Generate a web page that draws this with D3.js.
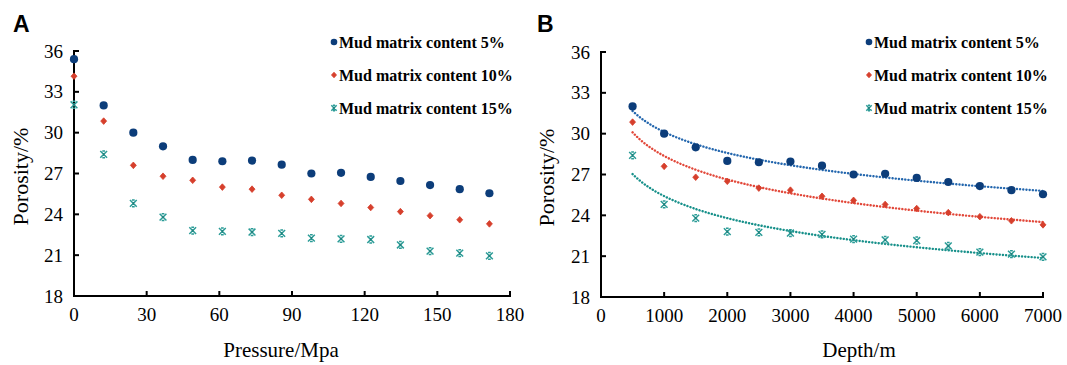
<!DOCTYPE html>
<html><head><meta charset="utf-8">
<script src="https://cdn.jsdelivr.net/npm/d3@7"></script>
<style>
html,body{margin:0;padding:0;background:#fff;}
svg{display:block;}
</style></head>
<body>
<svg id="chart" width="1067" height="365"></svg>
<script>
// ---------- data ----------
const pressure = [0, 12.25, 24.5, 36.75, 49, 61.25, 73.5, 85.75, 98, 110.25, 122.5, 134.75, 147, 159.25, 171.5];
const pressureMud5  = [35.4, 32.0, 30.0, 29.0, 28.0, 27.9, 27.95, 27.65, 27.0, 27.05, 26.75, 26.45, 26.15, 25.85, 25.55];
const pressureMud10 = [34.15, 30.85, 27.6, 26.8, 26.5, 26.0, 25.85, 25.4, 25.1, 24.8, 24.5, 24.2, 23.9, 23.6, 23.3];
const pressureMud15 = [32.05, 28.4, 24.8, 23.8, 22.8, 22.75, 22.7, 22.6, 22.25, 22.2, 22.15, 21.75, 21.3, 21.15, 20.95];

const depth = [500, 1000, 1500, 2000, 2500, 3000, 3500, 4000, 4500, 5000, 5500, 6000, 6500, 7000];
const depthMud5  = [32.0, 30.0, 29.0, 28.0, 27.9, 27.95, 27.65, 27.0, 27.05, 26.75, 26.45, 26.15, 25.85, 25.55];
const depthMud10 = [30.85, 27.6, 26.8, 26.5, 26.0, 25.85, 25.4, 25.1, 24.8, 24.5, 24.2, 23.9, 23.6, 23.3];
const depthMud15 = [28.4, 24.8, 23.8, 22.8, 22.75, 22.7, 22.6, 22.25, 22.2, 22.15, 21.75, 21.3, 21.15, 20.95];

const seriesNames = ["Mud matrix content 5%", "Mud matrix content 10%", "Mud matrix content 15%"];
const yTicks = [18, 21, 24, 27, 30, 33, 36];
const pressureTicks = [0, 30, 60, 90, 120, 150, 180];
const depthTicks = [0, 1000, 2000, 3000, 4000, 5000, 6000, 7000];

// ---------- styles ----------
const markerColors = ["#0c3d7a", "#d63f2c", "#2b9c97"];
const trendColors  = ["#2467ae", "#e2483a", "#17908a"];
const markerTypes  = ["circle", "diamond", "star"];

const svg = d3.select("#chart");
const serif = "'Liberation Serif','Times New Roman',serif";

function drawMarker(g, type, color, x, y, s) {
  if (type === "circle") {
    g.append("circle").attr("cx", x).attr("cy", y).attr("r", s).attr("fill", color);
  } else if (type === "diamond") {
    const w = s * 0.9, h = s;
    g.append("path")
      .attr("d", `M${x},${y-h}L${x+w},${y}L${x},${y+h}L${x-w},${y}Z`)
      .attr("fill", color).attr("stroke", color).attr("stroke-width", 0.8).attr("stroke-linejoin", "round");
  } else {
    const p = d3.path();
    p.moveTo(x - s, y - s); p.lineTo(x + s, y + s);
    p.moveTo(x - s, y + s); p.lineTo(x + s, y - s);
    p.moveTo(x - s * 0.4, y - s); p.lineTo(x + s * 0.4, y - s);
    p.moveTo(x - s * 0.4, y + s); p.lineTo(x + s * 0.4, y + s);
    g.append("path").attr("d", p.toString()).attr("fill", "none")
      .attr("stroke", color).attr("stroke-width", 1.5);
    g.append("circle").attr("cx", x).attr("cy", y).attr("r", 1.1).attr("fill", d3.color(color).darker(0.6));
  }
}

function logFit(xs, ys) {
  const lx = xs.map(Math.log);
  const n = xs.length;
  const mx = d3.mean(lx), my = d3.mean(ys);
  let sxy = 0, sxx = 0;
  for (let i = 0; i < n; i++) { sxy += (lx[i] - mx) * (ys[i] - my); sxx += (lx[i] - mx) ** 2; }
  const b = sxy / sxx, a = my - b * mx;
  return x => a + b * Math.log(x);
}

function panel(cfg) {
  const g = svg.append("g");
  const x = d3.scaleLinear().domain(cfg.xDomain).range([cfg.left, cfg.right]);
  const y = d3.scaleLinear().domain([18, 36]).range([cfg.bottom, cfg.top]);

  // axes
  const ax = g.append("g").attr("stroke", "#000").attr("stroke-width", 2);
  ax.append("line").attr("x1", cfg.left).attr("x2", cfg.left).attr("y1", y(36) - 1).attr("y2", cfg.bottom + 1);
  ax.append("line").attr("x1", cfg.left - 1).attr("x2", x(cfg.xDomain[1]) + 1).attr("y1", cfg.bottom).attr("y2", cfg.bottom);
  yTicks.forEach(t => {
    ax.append("line").attr("x1", cfg.left).attr("x2", cfg.left + 5).attr("y1", y(t)).attr("y2", y(t));
    g.append("text").attr("x", cfg.left - 11).attr("y", y(t)).attr("dy", "0.35em")
      .attr("text-anchor", "end").attr("font-family", serif).attr("font-size", 19).text(t);
  });
  cfg.xTicks.forEach(t => {
    ax.append("line").attr("x1", x(t)).attr("x2", x(t)).attr("y1", cfg.bottom).attr("y2", cfg.bottom - 5);
    g.append("text").attr("x", x(t)).attr("y", cfg.bottom + 25)
      .attr("text-anchor", "middle").attr("font-family", serif).attr("font-size", 19).text(t);
  });

  // titles
  g.append("text").attr("x", cfg.titleX).attr("y", 357).attr("text-anchor", "middle")
    .attr("font-family", serif).attr("font-size", 21).text(cfg.xTitle);
  g.append("text").attr("transform", `translate(${cfg.yTitleX},${(cfg.top + cfg.bottom) / 2 + 3}) rotate(-90)`)
    .attr("text-anchor", "middle").attr("font-family", serif).attr("font-size", 22).text("Porosity/%");
  g.append("text").attr("x", cfg.letterX).attr("y", 32).attr("font-family", "'Liberation Sans',Arial,sans-serif")
    .attr("font-weight", "bold").attr("font-size", 23).text(cfg.letter);

  // trend lines
  if (cfg.trend) {
    cfg.series.forEach((ys, i) => {
      const f = logFit(cfg.xs, ys);
      const pts = d3.range(cfg.xs[0], cfg.xs[cfg.xs.length - 1] + 1, 50).map(v => [x(v), y(f(v))]);
      g.append("path").attr("d", d3.line()(pts)).attr("fill", "none")
        .attr("stroke", trendColors[i]).attr("stroke-width", 2.4)
        .attr("stroke-dasharray", "0.1 3.1").attr("stroke-linecap", "round");
    });
  }

  // markers
  const sizes = [4.1, 3.3, 3.4];
  cfg.series.forEach((ys, i) => {
    const mg = g.append("g");
    ys.forEach((v, j) => drawMarker(mg, markerTypes[i], markerColors[i], x(cfg.xs[j]), y(v), sizes[i]));
  });

  // legend
  const legSizes = [3.3, 2.8, 2.7];
  const rowsY = [42, 75, 108];
  seriesNames.forEach((name, i) => {
    drawMarker(g, markerTypes[i], markerColors[i], cfg.legendX, rowsY[i], legSizes[i]);
    g.append("text").attr("x", cfg.legendX + 5).attr("y", rowsY[i]).attr("dy", "0.35em")
      .attr("font-family", serif).attr("font-weight", "bold").attr("font-size", 16).text(name);
  });
}

panel({
  letter: "A", letterX: 13,
  xDomain: [0, 180], xTicks: pressureTicks, xs: pressure,
  series: [pressureMud5, pressureMud10, pressureMud15],
  left: 74, right: 510, top: 51, bottom: 296,
  xTitle: "Pressure/Mpa", titleX: 281, yTitleX: 28,
  legendX: 334, trend: false
});
panel({
  letter: "B", letterX: 537,
  xDomain: [0, 7000], xTicks: depthTicks, xs: depth,
  series: [depthMud5, depthMud10, depthMud15],
  left: 601, right: 1043, top: 52, bottom: 297,
  xTitle: "Depth/m", titleX: 859, yTitleX: 554,
  legendX: 869, trend: true
});
</script>
</body></html>
